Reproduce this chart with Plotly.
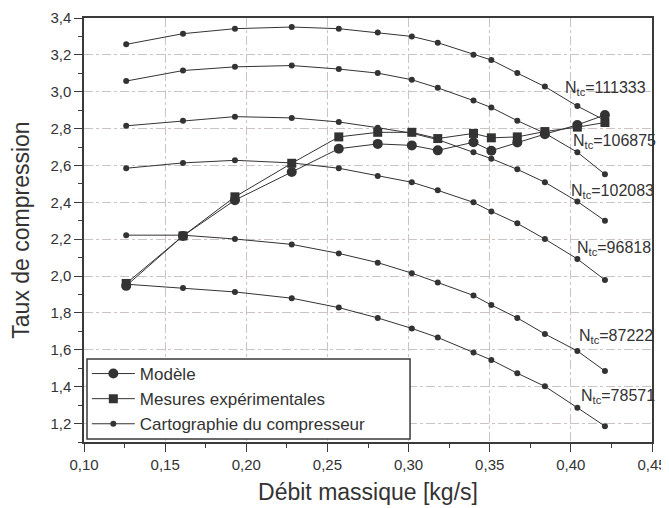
import plotly.graph_objects as go

# ---- data ----
debit = [0.126, 0.161, 0.193, 0.228, 0.257, 0.281, 0.302, 0.318, 0.340, 0.351, 0.367, 0.384, 0.404, 0.421]

carto_111333 = [3.257, 3.315, 3.342, 3.351, 3.342, 3.321, 3.300, 3.266, 3.201, 3.172, 3.101, 3.028, 2.922, 2.845]
carto_106875 = [3.058, 3.115, 3.135, 3.142, 3.123, 3.101, 3.065, 3.021, 2.952, 2.914, 2.843, 2.775, 2.672, 2.552]
carto_102083 = [2.815, 2.843, 2.865, 2.858, 2.836, 2.805, 2.775, 2.740, 2.672, 2.637, 2.579, 2.509, 2.405, 2.300]
carto_96818 = [2.585, 2.614, 2.628, 2.614, 2.585, 2.543, 2.509, 2.465, 2.400, 2.351, 2.286, 2.201, 2.093, 1.979]
carto_87222 = [2.222, 2.222, 2.201, 2.172, 2.123, 2.073, 2.016, 1.965, 1.895, 1.843, 1.773, 1.686, 1.594, 1.485]
carto_78571 = [1.956, 1.936, 1.914, 1.880, 1.829, 1.773, 1.716, 1.667, 1.586, 1.545, 1.473, 1.402, 1.286, 1.186]

modele = [1.947, 2.218, 2.412, 2.565, 2.691, 2.717, 2.709, 2.682, 2.726, 2.680, 2.725, 2.770, 2.820, 2.874]
mesures = [1.960, 2.218, 2.430, 2.612, 2.755, 2.780, 2.780, 2.746, 2.774, 2.750, 2.755, 2.784, 2.808, 2.833]

speed_labels = ["111333", "106875", "102083", "96818", "87222", "78571"]
label_x = [0.3950, 0.4000, 0.3990, 0.4025, 0.4039, 0.4052]
label_y = [3.018, 2.729, 2.461, 2.148, 1.674, 1.347]

x_ticks = [0.10, 0.15, 0.20, 0.25, 0.30, 0.35, 0.40, 0.45]
y_ticks = [1.2, 1.4, 1.6, 1.8, 2.0, 2.2, 2.4, 2.6, 2.8, 3.0, 3.2, 3.4]

# ---- figure ----
DARK = "#333333"
AXIS = "#3a3a3a"
FONT = "Liberation Sans, Arial, sans-serif"

fig = go.Figure()

carto_curves = [carto_111333, carto_106875, carto_102083, carto_96818, carto_87222, carto_78571]
for i, vals in enumerate(carto_curves):
    fig.add_trace(go.Scatter(
        x=debit, y=vals, mode="lines+markers",
        name="Cartographie du compresseur",
        legendgroup="carto", showlegend=(i == 0), legendrank=3,
        line=dict(color=DARK, width=1),
        marker=dict(symbol="circle", size=6, color=DARK),
    ))

fig.add_trace(go.Scatter(
    x=debit, y=mesures, mode="lines+markers", name="Mesures expérimentales",
    legendrank=2,
    line=dict(color=DARK, width=1),
    marker=dict(symbol="square", size=9, color=DARK),
))
fig.add_trace(go.Scatter(
    x=debit, y=modele, mode="lines+markers", name="Modèle",
    legendrank=1,
    line=dict(color=DARK, width=1),
    marker=dict(symbol="circle", size=10, color=DARK),
))

for lab, lx, ly in zip(speed_labels, label_x, label_y):
    fig.add_annotation(
        x=lx, y=ly, xref="x", yref="y",
        text="N<sub>tc</sub>=" + lab,
        showarrow=False, xanchor="left", yanchor="middle",
        font=dict(family=FONT, size=16, color=DARK),
    )

# legend frame (drawn as a shape so its size matches the original box)
fig.add_shape(
    type="rect", xref="paper", yref="paper",
    x0=0.0053, x1=0.574, y0=0.0071, y1=0.1958,
    fillcolor="white", line=dict(color=AXIS, width=1.5), layer="above",
)

GRID = "#cdc3c3"
fig.update_xaxes(
    range=[0.10, 0.45], tickvals=x_ticks, tickformat=".2f",
    showline=True, linecolor=AXIS, linewidth=1.5, mirror=True,
    ticks="outside", ticklen=8, tickwidth=1.2, tickcolor=AXIS,
    minor=dict(dtick=0.025, tick0=0.1, ticks="outside", ticklen=4, tickwidth=1.2, tickcolor=AXIS),
    showgrid=True, gridcolor=GRID, gridwidth=1, griddash="dashdot",
    zeroline=False,
    tickfont=dict(family=FONT, size=15, color=DARK),
    title=dict(text="Débit massique [kg/s]", font=dict(family=FONT, size=23, color=DARK), standoff=12),
)
fig.update_yaxes(
    range=[1.1, 3.4], tickvals=y_ticks, tickformat=".1f",
    showline=True, linecolor=AXIS, linewidth=1.5, mirror=True,
    ticks="outside", ticklen=8, tickwidth=1.2, tickcolor=AXIS,
    minor=dict(dtick=0.1, tick0=1.1, ticks="outside", ticklen=4, tickwidth=1.2, tickcolor=AXIS),
    showgrid=True, gridcolor=GRID, gridwidth=1, griddash="dashdot",
    zeroline=False,
    tickfont=dict(family=FONT, size=15, color=DARK),
    title=dict(text="Taux de compression", font=dict(family=FONT, size=23, color=DARK), standoff=15),
)

# the page body adds an 8px offset, so the figure is 8px smaller and margins shifted
fig.update_layout(
    width=661, height=500,
    margin=dict(l=76, r=17, t=10, b=66, autoexpand=False),
    paper_bgcolor="white", plot_bgcolor="white",
    separators=", ",
    font=dict(family=FONT, color=DARK),
    legend=dict(
        x=0.005, y=0.1014, xanchor="left", yanchor="middle",
        bgcolor="rgba(0,0,0,0)", borderwidth=0,
        font=dict(family=FONT, size=17, color=DARK),
        tracegroupgap=0, itemsizing="trace", itemwidth=43,
    ),
)

fig.write_html("out.html")
